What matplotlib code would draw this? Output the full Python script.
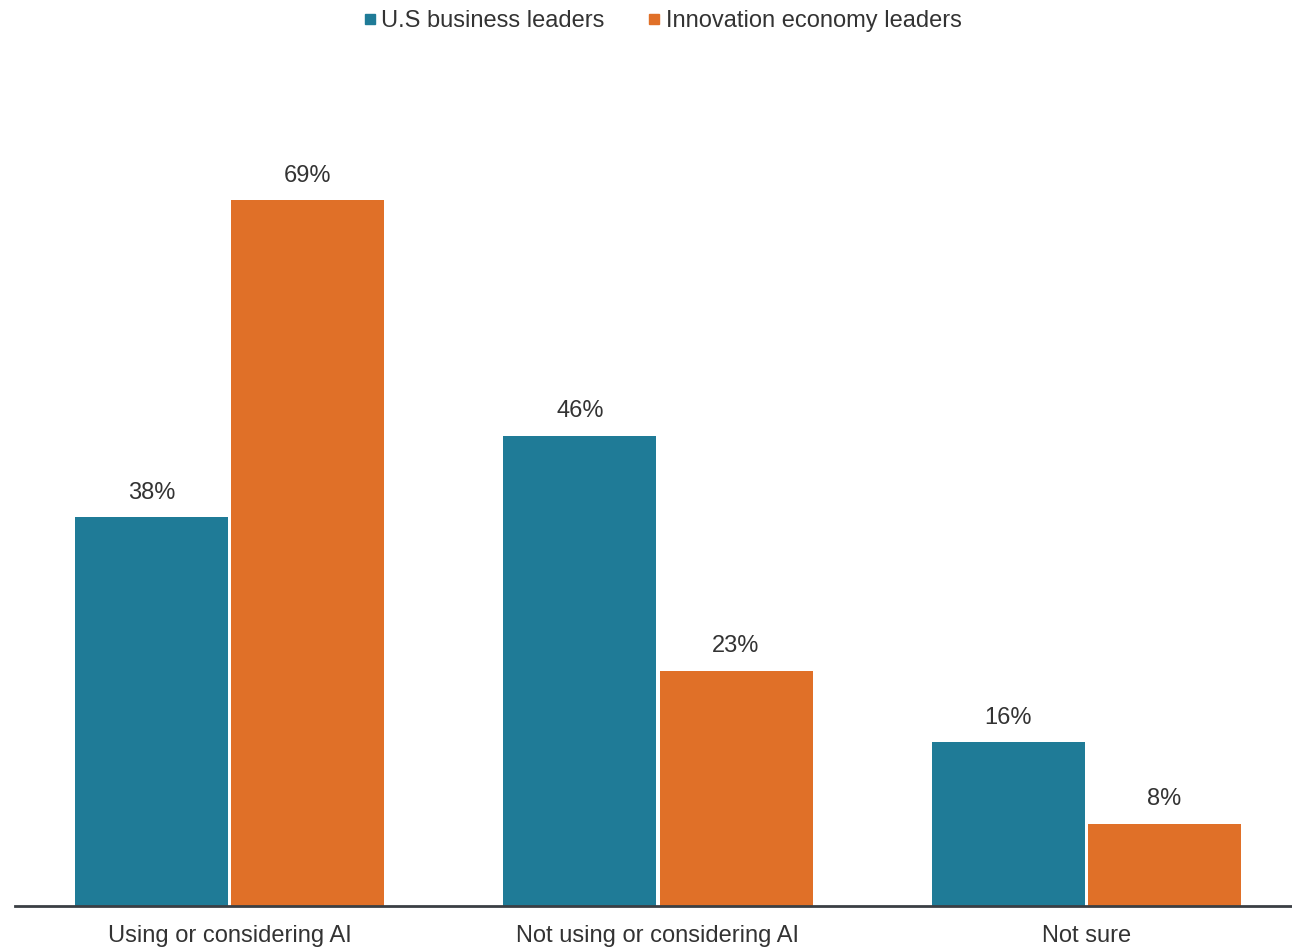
import numpy as np
import matplotlib
matplotlib.use("Agg")
import matplotlib.pyplot as plt
from matplotlib.lines import Line2D

plt.rcParams["font.family"] = ["Liberation Sans", "DejaVu Sans"]

categories = ["Using or considering AI", "Not using or considering AI", "Not sure"]
series = ["U.S business leaders", "Innovation economy leaders"]
us_leaders = [38, 46, 16]
innovation_leaders = [69, 23, 8]

TEAL, ORANGE, INK = "#1f7b97", "#e07028", "#333333"

fig = plt.figure(figsize=(12.92, 9.5), dpi=100)
ax = fig.add_axes([15 / 1292, 1 - 906 / 950, 1 - 15 / 1292, 818 / 950])

x = np.arange(len(categories))
off, w = 78 / 428.5, 153 / 428.5
b1 = ax.bar(x - off, us_leaders, w, color=TEAL)
b2 = ax.bar(x + off, innovation_leaders, w, color=ORANGE)

for bars, vals in ((b1, us_leaders), (b2, innovation_leaders)):
    for r, v in zip(bars, vals):
        ax.annotate(f"{v}%", (r.get_x() + r.get_width() / 2, v), xytext=(0, 10),
                    textcoords="offset points", ha="center", va="bottom",
                    fontsize=17, color=INK)

ax.set_xlim(-(229.5 - 15) / 428.5, (1292 - 229.5) / 428.5)
ax.set_ylim(0, 80)
ax.set_xticks(x, categories, fontsize=17, color=INK)
ax.tick_params(axis="x", length=0, pad=14)
ax.set_yticks([])
for s in ("top", "right", "left"):
    ax.spines[s].set_visible(False)
ax.spines["bottom"].set_color("#3a3f44")
ax.spines["bottom"].set_linewidth(2)

handles = [Line2D([], [], marker="s", ls="", color=c, markersize=7) for c in (TEAL, ORANGE)]
fig.legend(handles, series, loc="center", bbox_to_anchor=(661 / 1292, 1 - 21 / 950), ncol=2,
           frameon=False, fontsize=17, labelcolor=INK, handletextpad=0.1,
           columnspacing=1.7, handlelength=0.8)

fig.savefig("out.png", dpi=100)
